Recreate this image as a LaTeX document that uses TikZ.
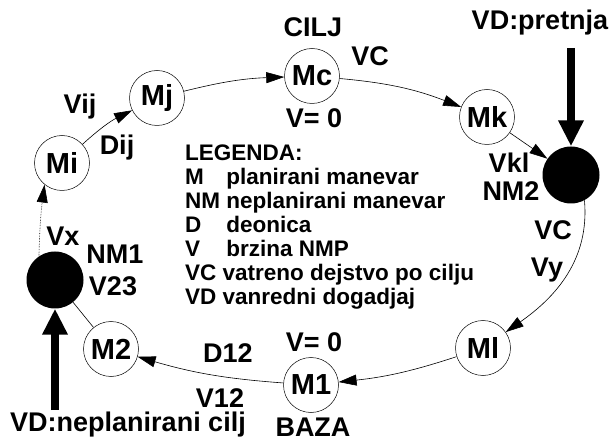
\documentclass[tikz,border=0pt]{standalone}
\usepackage{fontspec}
\setmainfont{Liberation Sans}
\usetikzlibrary{arrows.meta}
\begin{document}
\begin{tikzpicture}[x=1pt,y=1pt,
  lbl/.style={font=\fontsize{27}{27}\selectfont\bfseries, inner sep=0pt},
  mnode/.style={circle, draw, line width=0.5pt, minimum size=55pt, inner sep=0pt,
                font=\fontsize{29}{29}\selectfont\bfseries},
  nmnode/.style={circle, fill=black, minimum size=57pt, inner sep=0pt},
  conn/.style={line width=0.6pt, -{Triangle[length=18pt,width=11pt]}},
  plain/.style={line width=0.6pt},
  vd/.style={line width=8pt, -{Triangle[length=26pt,width=24pt]}},
  legend/.style={font=\fontsize{22.5}{24}\selectfont\bfseries, align=left, inner sep=0pt, anchor=north west}]
\useasboundingbox (0,0) rectangle (613,-446);

% planned and unplanned manoeuvre points
\node[mnode] (Mi) at (62,-163) {Mi};
\node[mnode] (Mj) at (157,-98) {Mj};
\node[mnode] (Mc) at (312,-76) {Mc};
\node[mnode] (Mk) at (487,-117) {Mk};
\node[nmnode] (NM2) at (571,-175) {};
\node[mnode] (Ml) at (483,-348) {Ml};
\node[mnode] (M1) at (311,-385) {M1};
\node[mnode] (M2) at (111,-349) {M2};
\node[nmnode] (NM1) at (55,-280) {};

% route between the points
\draw[conn] (Mi) to[bend left=8] (Mj);
\draw[conn] (Mj) to[bend left=6] (Mc);
\draw[conn] (Mc) to[bend left=8] (Mk);
\draw[conn] (Mk) to (NM2);
\draw[conn] (NM2.-62) to[out=-85,in=35] (Ml);
\draw[conn] (Ml) to[bend left=6] (M1);
\draw[conn] (M1) to[bend left=6] (M2);
\draw[plain] (M2) to (NM1);
\draw[conn, densely dotted] (NM1.124) to[bend left=3] (Mi.231);

% unexpected events
\coordinate (pretnja) at (571,-48);
\coordinate (cilj) at (55,-410);
\draw[vd] (pretnja) -- (NM2);
\draw[vd] (cilj) -- (NM1);

% labels
\node[lbl] (tCilj) at (313,-27) {CILJ};
\node[lbl] (tVCa) at (370,-56) {VC};
\node[lbl] (tV0a) at (314,-118) {V= 0};
\node[lbl] (tVij) at (80,-107) {Vij};
\node[lbl] (tDij) at (117,-148) {Dij};
\node[lbl] (tPret) at (540,-23) {VD:pretnja};
\node[lbl] (tVkl) at (509,-163) {Vkl};
\node[lbl] (tNM2) at (511,-191) {NM2};
\node[lbl] (tVCb) at (553,-230) {VC};
\node[lbl] (tVy) at (547,-270) {Vy};
\node[lbl] (tV0b) at (314,-342) {V= 0};
\node[lbl] (tD12) at (228,-353) {D12};
\node[lbl] (tV12) at (220,-398) {V12};
\node[lbl] (tBaza) at (313,-427) {BAZA};
\node[lbl] (tVx) at (63,-236) {Vx};
\node[lbl] (tNM1) at (115,-254) {NM1};
\node[lbl] (tV23) at (113,-286) {V23};
\node[lbl] (tNepl) at (128,-425) {VD:neplanirani cilj};

% legend
\node[legend] (leg) at (185,-145) {LEGENDA:\\
\makebox[1.833em][l]{M}planirani manevar\\
NM neplanirani manevar\\
\makebox[1.833em][l]{D}deonica\\
\makebox[1.833em][l]{V}brzina NMP\\
VC vatreno dejstvo po cilju\\
VD vanredni dogadjaj};
\end{tikzpicture}
\end{document}
